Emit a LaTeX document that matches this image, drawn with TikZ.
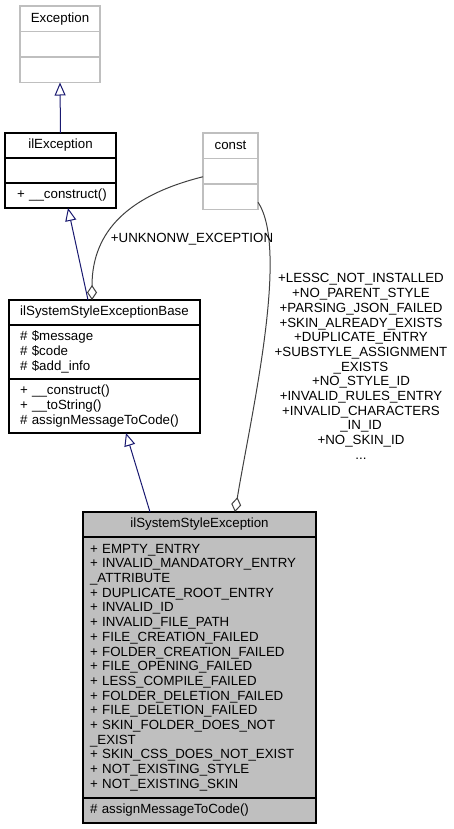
\documentclass[tikz,border=0pt]{standalone}
\usepackage{fontspec}
\setmainfont{Liberation Sans}
\usepackage{xcolor}
\usetikzlibrary{positioning,arrows.meta}

\definecolor{edgegrey}{HTML}{404040}
\definecolor{boxgrey}{HTML}{BFBFBF}
\definecolor{lightline}{HTML}{BFBFBF}
\definecolor{inhblue}{HTML}{191970}

\newcommand{\dfont}{\fontsize{13.3}{14.7}\selectfont\hyphenpenalty=10000}

\tikzset{
	clshead/.style={draw=black, line width=1.2pt, inner sep=0pt, outer sep=0pt, minimum height=25pt, anchor=north west},
	clspart/.style={draw=black, line width=1.2pt, inner ysep=0pt, outer sep=0pt, minimum height=25pt, align=left},
	greyhead/.style={draw=lightline, line width=1.2pt, inner sep=0pt, outer sep=0pt, minimum height=25.5pt, anchor=north west},
	greypart/.style={draw=lightline, line width=1.2pt, inner sep=0pt, outer sep=0pt, minimum height=25.5pt},
	inh/.style={draw=inhblue, line width=1pt, -{Triangle[open, length=13pt, width=11pt]}},
	comp/.style={draw=edgegrey, line width=1pt, -{Diamond[open, length=15pt, width=10pt]}},
}

\begin{document}
\begin{tikzpicture}[x=1pt, y=-1pt, font=\dfont]
	\useasboundingbox (0,0) rectangle (453,829);

	% Define the class boxes with specific positions
	\node[greyhead, minimum width=80pt] (exc) at (20,6) {Exception};
	\node[greypart, minimum width=80pt, below=0pt of exc] (excA) {};
	\node[greypart, minimum width=80pt, below=0pt of excA] (excB) {};

	\node[clshead, minimum width=111pt] (ilexc) at (5,133) {ilException};
	\node[clspart, minimum width=111pt, below=0pt of ilexc] (ilexcA) {};
	\node[clspart, text width=87pt, inner xsep=12pt, below=0pt of ilexcA] (ilexcB) {+~\_\_construct()};

	\node[greyhead, minimum width=55pt] (cst) at (203,133) {const};
	\node[greypart, minimum width=55pt, below=0pt of cst] (cstA) {};
	\node[greypart, minimum width=55pt, below=0pt of cstA] (cstB) {};

	\node[clshead, minimum width=191pt] (base) at (9,300) {ilSystemStyleExceptionBase};
	\node[clspart, text width=169pt, inner xsep=11pt, minimum height=54pt, below=0pt of base] (baseA)
		{\#~\$message\\ \#~\$code\\ \#~\$add\_info};
	\node[clspart, text width=169pt, inner xsep=11pt, minimum height=54pt, below=0pt of baseA] (baseB)
		{+~\_\_construct()\\ +~\_\_toString()\\ \#~assignMessageToCode()};

	\node[clshead, fill=boxgrey, minimum width=233pt] (sse) at (83,512) {ilSystemStyleException};
	\node[clspart, fill=boxgrey, text width=219pt, inner xsep=7pt, minimum height=261pt, below=0pt of sse] (sseA)
		{+~EMPTY\_ENTRY\\
		+~INVALID\_MANDATORY\_ENTRY\\
		\_ATTRIBUTE\\
		+~DUPLICATE\_ROOT\_ENTRY\\
		+~INVALID\_ID\\
		+~INVALID\_FILE\_PATH\\
		+~FILE\_CREATION\_FAILED\\
		+~FOLDER\_CREATION\_FAILED\\
		+~FILE\_OPENING\_FAILED\\
		+~LESS\_COMPILE\_FAILED\\
		+~FOLDER\_DELETION\_FAILED\\
		+~FILE\_DELETION\_FAILED\\
		+~SKIN\_FOLDER\_DOES\_NOT\\
		\_EXIST\\
		+~SKIN\_CSS\_DOES\_NOT\_EXIST\\
		+~NOT\_EXISTING\_STYLE\\
		+~NOT\_EXISTING\_SKIN};
	\node[clspart, fill=boxgrey, text width=219pt, inner xsep=7pt, below=0pt of sseA] (sseB) {\#~assignMessageToCode()};

	% Draw the edges between the classes
	\draw[inh] (ilexc.north) -- (excB.south);
	\draw[inh] ([xshift=-16.5pt]base.north) -- ([xshift=7.5pt]ilexcB.south);
	\draw[inh] ([xshift=-49.5pt]sse.north) -- ([xshift=21.5pt]baseB.south);
	\draw[comp] ([yshift=-5.5pt]cstA.west) .. controls (130,195) and (92,230) .. ([xshift=-12.5pt]base.north);
	\draw[comp] ([yshift=-5.5pt]cstB.east) .. controls (290,250) and (250,420) .. ([xshift=35.5pt]sse.north);

	% Labels of the const members
	\node (unk) at (192,239) {+UNKNONW\_EXCEPTION};
	\node[align=center] (cmem) at (361,366.5)
		{+LESSC\_NOT\_INSTALLED\\
		+NO\_PARENT\_STYLE\\
		+PARSING\_JSON\_FAILED\\
		+SKIN\_ALREADY\_EXISTS\\
		+DUPLICATE\_ENTRY\\
		+SUBSTYLE\_ASSIGNMENT\\
		\_EXISTS\\
		+NO\_STYLE\_ID\\
		+INVALID\_RULES\_ENTRY\\
		+INVALID\_CHARACTERS\\
		\_IN\_ID\\
		+NO\_SKIN\_ID\\
		...};
\end{tikzpicture}
\end{document}
